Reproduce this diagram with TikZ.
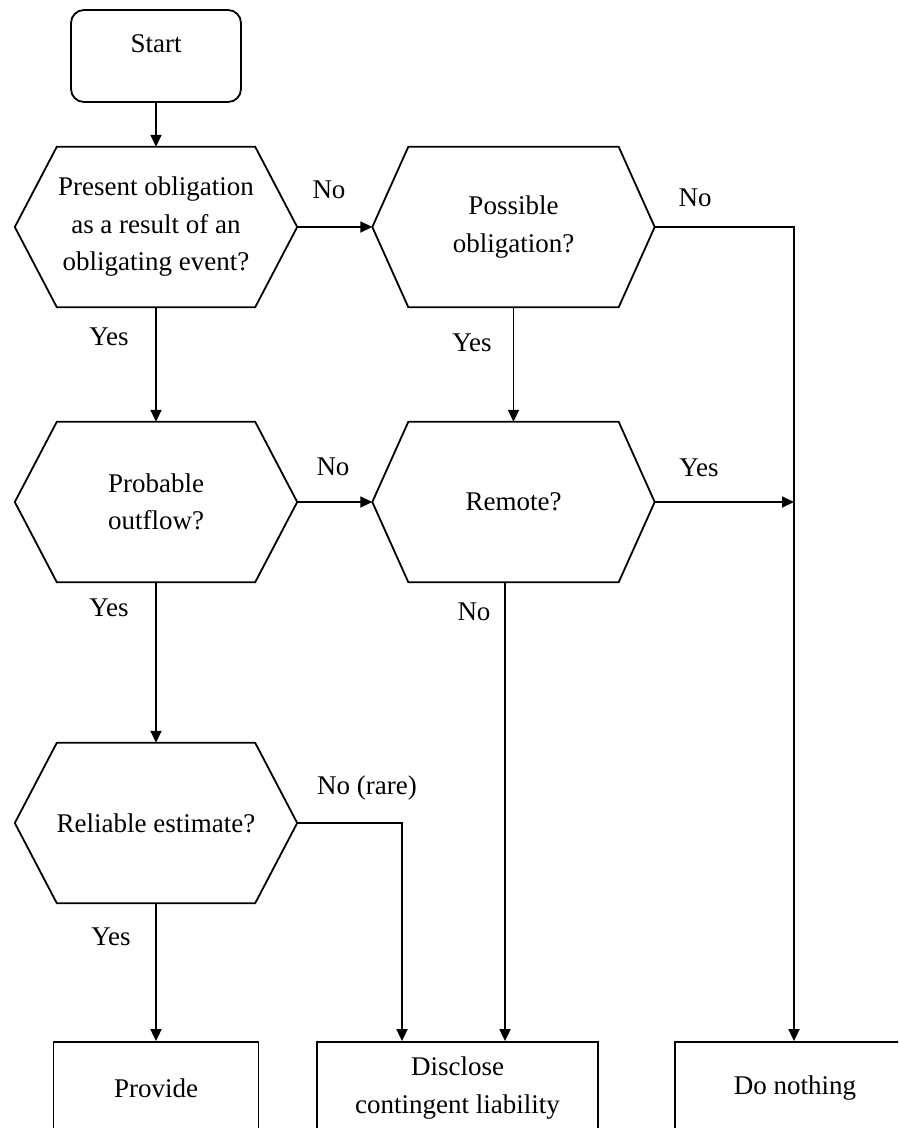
\documentclass[tikz,border=0pt]{standalone}
\usepackage{fontspec}
\setmainfont{Liberation Serif}
\usetikzlibrary{arrows.meta}
% outline of a decision hexagon: pointed left/right ends, flat top and bottom
\newcommand{\hexframe}[2]{%
  \draw[frame] (#1.west) -- ([xshift=#2]#1.north west) -- ([xshift=-#2]#1.north east)
    -- (#1.east) -- ([xshift=-#2]#1.south east) -- ([xshift=#2]#1.south west) -- cycle;}
\begin{document}
\begin{tikzpicture}[x=1pt,y=-1pt,
  frame/.style={line width=1.8pt, line join=miter},
  arr/.style={line width=1.8pt, -{Triangle[length=12pt,width=11pt]}},
  txt/.style={font=\fontsize{27}{37.5}\selectfont, align=center, inner sep=0pt},
  hexnode/.style={txt, minimum width=282pt, minimum height=160pt},
  endbox/.style={txt, draw, line width=1.8pt, minimum height=92pt},
  lbl/.style={font=\fontsize{27}{30}\selectfont, inner sep=0pt}]
\useasboundingbox (0,0) rectangle (898,1128);
\clip (0,0) rectangle (898,1128);

% start terminal
\node[txt, draw, line width=1.8pt, rounded corners=13pt, minimum width=170pt,
      minimum height=92pt, text height=18pt, text depth=26pt] (start) at (156,56) {Start};

% decisions
\node[hexnode] (h1) at (156,227) {Present obligation\\as a result of an\\obligating event?};
\node[hexnode] (h2) at (513.5,227) {Possible\\obligation?};
\node[hexnode] (h3) at (156,502) {Probable\\outflow?};
\node[hexnode] (h4) at (513.5,502) {Remote?};
\node[hexnode] (h5) at (156,823) {Reliable estimate?};
\hexframe{h1}{42pt}
\hexframe{h2}{36pt}
\hexframe{h3}{42pt}
\hexframe{h4}{36pt}
\hexframe{h5}{42pt}

% outcomes
\node[endbox, minimum width=205pt] (provide) at (156,1088) {Provide};
\node[endbox, minimum width=281pt] (disclose) at (457.5,1088) {Disclose\\contingent liability};
\node[endbox, minimum width=240pt] (donothing) at (795,1088) {Do nothing};

% connector end points
\coordinate (nodrop) at ([xshift=-1pt]donothing.north);
\coordinate (rareIn) at ([xshift=-55.5pt]disclose.north);
\coordinate (remoteOut) at ([xshift=-8.5pt]h4.south);

% connectors
\draw[arr] (start.south) -- (h1.north);
\draw[arr] (h1.east) -- (h2.west);
\draw[arr] (h1.south) -- (h3.north);
\draw[arr] (h2.south) -- (h4.north);
\draw[arr] (h2.east) -| (nodrop);
\draw[arr] (h3.east) -- (h4.west);
\draw[arr] (h4.east) -- (h4.east -| nodrop);
\draw[arr] (h3.south) -- (h5.north);
\draw[arr] (remoteOut) -- (remoteOut |- disclose.north);
\draw[arr] (h5.east) -| (rareIn);
\draw[arr] (h5.south) -- (provide.north);

% branch labels
\node[lbl] (l1) at (329,190) {No};
\node[lbl] (l2) at (695,198) {No};
\node[lbl] (l3) at (109,337) {Yes};
\node[lbl] (l4) at (472,343) {Yes};
\node[lbl] (l5) at (333,467) {No};
\node[lbl] (l6) at (699,468) {Yes};
\node[lbl] (l7) at (109,608) {Yes};
\node[lbl] (l8) at (474,612) {No};
\node[lbl] (l9) at (367,788) {No (rare)};
\node[lbl] (l10) at (111,937) {Yes};
\end{tikzpicture}
\end{document}
